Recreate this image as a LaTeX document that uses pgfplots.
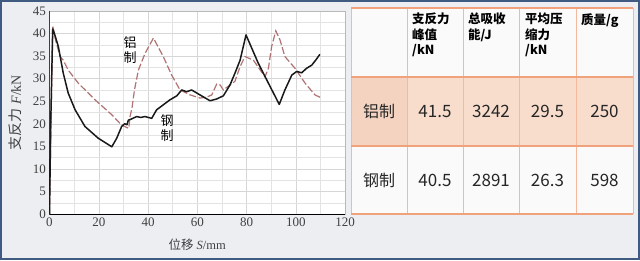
\documentclass[border=0pt]{standalone}
\usepackage{pgfplots}
\pgfplotsset{compat=1.18}
\usepackage{fontspec}
\setmainfont{Liberation Serif}
\newfontfamily\cjk{Noto Sans CJK SC}
\definecolor{bg}{HTML}{ECEEF2}
\definecolor{frame}{HTML}{3F5B82}
\definecolor{al}{HTML}{B07272}
\definecolor{tline}{HTML}{EFA27C}
\definecolor{rowone}{HTML}{F8DDCD}
\definecolor{rowonefirst}{HTML}{F4D4C0}
\definecolor{cellw}{HTML}{FAFAFB}

\pgfplotstableread{
x y
0 0
0.5 20
1.3 41
2 40
3.6 37.1
5.6 31.2
7.6 26.8
10.4 23.1
14.4 19.4
19.8 16.8
25.3 14.9
27.3 16.8
29.3 19.4
30.5 20.0
31.5 19.8
32 20.8
33 21.0
35.4 21.6
37 21.4
38.8 21.6
41.5 21.2
43.5 23.1
46.2 24.2
48.9 25.3
51.7 26.2
53.7 27.5
55.7 27.1
57.7 27.5
61.1 26.4
65.2 25.1
67.9 25.5
70.6 26.2
73.3 28.6
75.3 31.2
77.4 34.1
79.8 39.7
84.8 33.4
88.9 29
93.3 24.3
95.6 27.5
98.4 30.8
100.4 31.6
102.4 31.3
104.4 32.3
106.5 33
108.1 34.1
109.8 35.4
}\steel

\pgfplotstableread{
x y
0 0
0.6 20
1.3 41.8
2.5 38.5
4.3 34.9
5.6 34.1
7.6 31.9
11.7 29
18.5 25.3
25.3 22
29.3 19.7
31.3 19.2
32.2 19.0
32.7 21.6
33.5 23.5
34.5 27.5
36.1 31.9
38.8 35.6
42.2 39
46.2 34.9
49.6 30.8
53 27.5
57.1 26.4
61.1 25.7
63.8 25.9
65.9 26.4
67.9 28.8
69.3 28.6
70.6 27.5
73.3 28.6
75.3 29.4
77.4 32.7
79.4 34.9
82.8 34.1
87.5 30.4
88.9 32.3
90.2 37.1
91.9 40.6
93.6 38.6
95.6 34.9
99.7 32.3
103.8 29
107.8 26.4
109.8 25.9
110.5 26
}\alu

\begin{document}
\begin{tikzpicture}[x=1pt,y=1pt]
\useasboundingbox (0,0) rectangle (640,260);
\fill[bg] (0,0) rectangle (640,260);
\begin{axis}[
  at={(49.5pt,46pt)}, anchor=south west,
  scale only axis, width=295.5pt, height=203pt,
  xmin=0, xmax=120, ymin=0, ymax=45,
  xtick={0,20,...,120}, ytick={0,5,...,45},
  minor xtick={10,30,...,110}, minor ytick={2.5,7.5,...,42.5},
  grid=both,
  major grid style={draw=gray!32},
  minor grid style={draw=gray!22},
  axis background/.style={fill=white},
  axis line style={draw=gray!55},
  tick style={draw=none},
  tick label style={font=\fontsize{13}{13}\selectfont, text=black!75},
  /pgf/number format/assume math mode=true,
  xlabel={{\cjk 位移} \textit{S}/mm},
  ylabel={{\cjk 支反力} \textit{F}/kN},
  label style={text=black!75},
  xlabel style={font=\fontsize{12.5}{13}\selectfont, yshift=-6pt},
  ylabel style={font=\fontsize{14}{14}\selectfont, yshift=4pt},
]
\addplot[al, line width=1.2pt, dash pattern=on 7pt off 2.5pt] table[x=x,y=y] {\alu};
\addplot[black!90, line width=1.5pt, line join=round] table[x=x,y=y] {\steel};
\draw[black, line width=1pt] (axis cs:0,45) -- (axis cs:0,0) -- (axis cs:120,0);
\node[font=\cjk\fontsize{13}{14.5}\selectfont, align=center, inner sep=0] at (axis cs:32.7,36.3) {铝\\制};
\node[font=\cjk\fontsize{13}{14.5}\selectfont, align=center, inner sep=0] at (axis cs:47.8,19.1) {钢\\制};
\end{axis}

% table
\fill[cellw] (351,46) rectangle (633,252);
\fill[rowone] (351,114) rectangle (633,183);
\fill[rowonefirst] (351,114) rectangle (407,183);
\foreach \xx in {351,407,463,519,576,633} \draw[tline!75, line width=0.8pt] (\xx,46) -- (\xx,252);
\foreach \yy in {46,114,183,252} \draw[tline, line width=1.2pt] (351,\yy) -- (633,\yy);

\tikzset{hdr/.style={anchor=north west, inner sep=0, align=left, font=\cjk\bfseries\fontsize{12.5}{15.5}\selectfont}}
\node[hdr] at (412,247) {支反力\\峰值\\/kN};
\node[hdr] at (468,247) {总吸收\\能/J};
\node[hdr] at (525,247) {平均压\\缩力\\/kN};
\node[hdr] at (581,247) {质量/g};

\tikzset{val/.style={inner sep=0, font=\cjk\fontsize{17}{17}\selectfont, text=black!85}}
\node[val, font=\cjk\fontsize{16}{16}\selectfont] at (379,148.5) {铝制};
\node[val] at (435,148.5) {41.5};
\node[val] at (491,148.5) {3242};
\node[val] at (547.5,148.5) {29.5};
\node[val] at (604.5,148.5) {250};
\node[val, font=\cjk\fontsize{16}{16}\selectfont] at (379,80) {钢制};
\node[val] at (435,80) {40.5};
\node[val] at (491,80) {2891};
\node[val] at (547.5,80) {26.3};
\node[val] at (604.5,80) {598};

\draw[frame, line width=2pt] (1,1) rectangle (639,259);
\end{tikzpicture}
\end{document}
